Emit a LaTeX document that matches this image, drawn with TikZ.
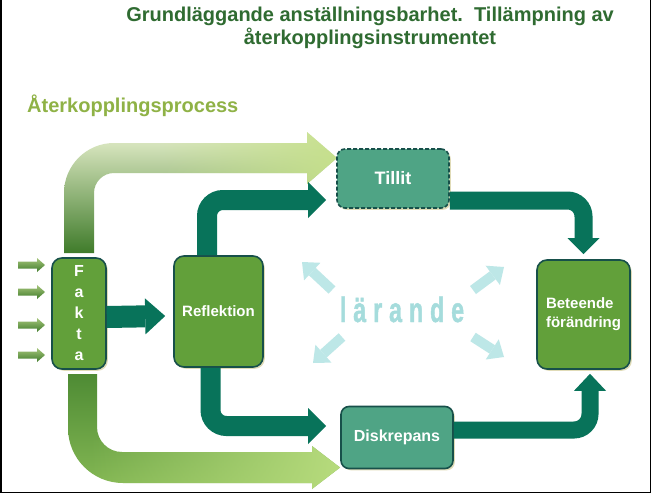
\documentclass[tikz,border=0pt]{standalone}
\usepackage{fontspec}
\setmainfont{Liberation Sans}
\newfontfamily\larfont[FakeStretch=0.66,LetterSpace=20,FakeBold=1.2]{Liberation Sans Bold}
\usetikzlibrary{arrows.meta,shadows,fadings}
\definecolor{ttl}{HTML}{2F6B31}
\definecolor{olive}{HTML}{8FB246}
\definecolor{boxgreen}{HTML}{62A03A}
\definecolor{boxedge}{HTML}{17504A}
\definecolor{tealbox}{HTML}{4FA485}
\definecolor{tealA}{HTML}{08735A}
\definecolor{cyanA}{HTML}{BDE7E7}
\definecolor{larc}{HTML}{A5DCDC}
\definecolor{shadowc}{HTML}{D9D3A6}
\definecolor{gDark}{HTML}{3F7B2A}
\definecolor{gMid}{HTML}{A5C57A}
\definecolor{gPale}{HTML}{E6EFCC}
\definecolor{gHead}{HTML}{C6E08C}
\definecolor{hDark}{HTML}{4E8B34}
\definecolor{hMid}{HTML}{86B955}
\definecolor{hHead}{HTML}{B8DC7E}
\tikzfading[name=fadeR, left color=transparent!100, right color=transparent!0]
\begin{document}
\begin{tikzpicture}[x=1pt,y=-1pt,
  boxbase/.style={draw=boxedge, line width=1.6pt, text=white, font=\bfseries,
    drop shadow={shadow xshift=1.8pt, shadow yshift=-1.8pt, fill=shadowc, opacity=0.8}},
  gbox/.style={boxbase, fill=boxgreen, rounded corners=10pt},
  tbox/.style={boxbase, fill=tealbox, rounded corners=8pt},
  tarrow/.style={draw=tealA, line width=20pt, rounded corners=16pt,
    -{Triangle[length=18pt,width=36pt,line width=0pt]}},
  carrow/.style={draw=cyanA, line width=10pt,
    -{Triangle[length=14pt,width=24pt,line width=0pt]}},
  inarrow/.style={top color=gMid, bottom color=gDark, draw=none}
]
\useasboundingbox (0,0) rectangle (652,495);
\fill[white] (0,0) rectangle (652,495);

% titles
\node[font=\bfseries\fontsize{20}{24}\selectfont, text=ttl, anchor=base] (title1) at (370,22)
  {Grundläggande anställningsbarhet.\ \ Tillämpning av};
\node[font=\bfseries\fontsize{20}{24}\selectfont, text=ttl, anchor=base] (title2) at (370,45)
  {återkopplingsinstrumentet};
\node[font=\bfseries\fontsize{20}{24}\selectfont, text=olive, anchor=base west, inner sep=0pt] (proc) at (27,112)
  {Återkopplingsprocess};

% top gradient arrow
\shade[top color=gPale, middle color=gMid, bottom color=gDark]
  (64,253) -- (64,193) .. controls (64,165.4) and (86.4,143) .. (114,143) -- (307,143)
  -- (307,132) -- (337,158) -- (307,184) -- (307,173) -- (114,173)
  .. controls (103,173) and (94,182) .. (94,193) -- (94,253) -- cycle;
\begin{scope}
  \clip (64,253) -- (64,193) .. controls (64,165.4) and (86.4,143) .. (114,143) -- (307,143)
  -- (307,132) -- (337,158) -- (307,184) -- (307,173) -- (114,173)
  .. controls (103,173) and (94,182) .. (94,193) -- (94,253) -- cycle;
  \fill[gHead, path fading=fadeR] (160,125) rectangle (340,190);
\end{scope}

% bottom gradient arrow
\shade[top color=hDark, bottom color=hMid]
  (68,374) -- (68,428) .. controls (68,458.4) and (92.6,483) .. (123,483) -- (312,483)
  -- (312,489) -- (340,467.5) -- (312,446) -- (312,452) -- (122,452)
  .. controls (108.2,452) and (97,440.8) .. (97,427) -- (97,374) -- cycle;
\begin{scope}
  \clip (68,374) -- (68,428) .. controls (68,458.4) and (92.6,483) .. (123,483) -- (312,483)
  -- (312,489) -- (340,467.5) -- (312,446) -- (312,452) -- (122,452)
  .. controls (108.2,452) and (97,440.8) .. (97,427) -- (97,374) -- cycle;
  \fill[hHead, path fading=fadeR] (90,440) rectangle (342,492);
\end{scope}

% boxes
\node[gbox, minimum width=54pt, minimum height=111pt, align=center,
  font=\bfseries\fontsize{16}{21}\selectfont] (fakta) at (79,313.5) {F\\a\\k\\t\\a};
\node[gbox, minimum width=89pt, minimum height=111pt,
  font=\bfseries\fontsize{15}{18}\selectfont] (refl) at (218.5,311.5) {Reflektion};
\node[tbox, dashed, dash pattern=on 4pt off 2pt, minimum width=112pt, minimum height=59pt,
  font=\bfseries\fontsize{18}{20}\selectfont] (tillit) at (393,178.5) {Tillit};
\node[tbox, minimum width=112pt, minimum height=62pt,
  font=\bfseries\fontsize{16}{18}\selectfont] (disk) at (397,437.5) {Diskrepans};
\node[gbox, minimum width=93pt, minimum height=109pt, align=left,
  font=\bfseries\fontsize{15}{19}\selectfont] (bet) at (583.5,314.5) {Beteende\\förändring};

% input arrows
\foreach \yc in {265,292,325,355}{
  \shade[inarrow] (18,\yc-3.5) -- (37,\yc-3.5) -- (37,\yc-7) -- (45,\yc) -- (37,\yc+7)
    -- (37,\yc+3.5) -- (18,\yc+3.5) -- cycle;
}

% teal arrows
\draw[tarrow, line width=22pt, -{Triangle[length=20pt,width=36pt,line width=0pt]}]
  ([yshift=-3.5pt]fakta.east) -- ([xshift=-8pt,yshift=-4.5pt]refl.west);
\draw[tarrow] ([xshift=-11.5pt]refl.north) |- ([xshift=-10pt,yshift=-21.5pt]tillit.west);
\draw[tarrow] ([xshift=-8pt]refl.south) |- ([xshift=-14pt,yshift=11.5pt]disk.west);
\draw[tarrow, line width=18pt, -{Triangle[length=16pt,width=32pt,line width=0pt]}]
  ([yshift=-22pt]tillit.east) -| ([yshift=5pt]bet.north);
\draw[tarrow, line width=17pt, -{Triangle[length=17pt,width=32pt,line width=0pt]}]
  ([yshift=7.5pt]disk.east) -| ([xshift=6.5pt,yshift=-4pt]bet.south);

% lärande
\node[text=larc, font=\larfont\fontsize{35}{35}\selectfont, anchor=base] (lar) at (402,322) {lärande};
\coordinate (c1t) at (332,290); \coordinate (c1h) at (302,262);
\coordinate (c2t) at (342,337); \coordinate (c2h) at (313,363);
\coordinate (c3t) at (473,290); \coordinate (c3h) at (504,267);
\coordinate (c4t) at (473,337); \coordinate (c4h) at (504,357);
\draw[carrow] (c1t) -- (c1h);
\draw[carrow] (c2t) -- (c2h);
\draw[carrow] (c3t) -- (c3h);
\draw[carrow] (c4t) -- (c4h);

% frame
\draw[line width=1.5pt] (0.75,0) -- (0.75,492.5) -- (650.25,492.5) -- (650.25,0);
\end{tikzpicture}
\end{document}
